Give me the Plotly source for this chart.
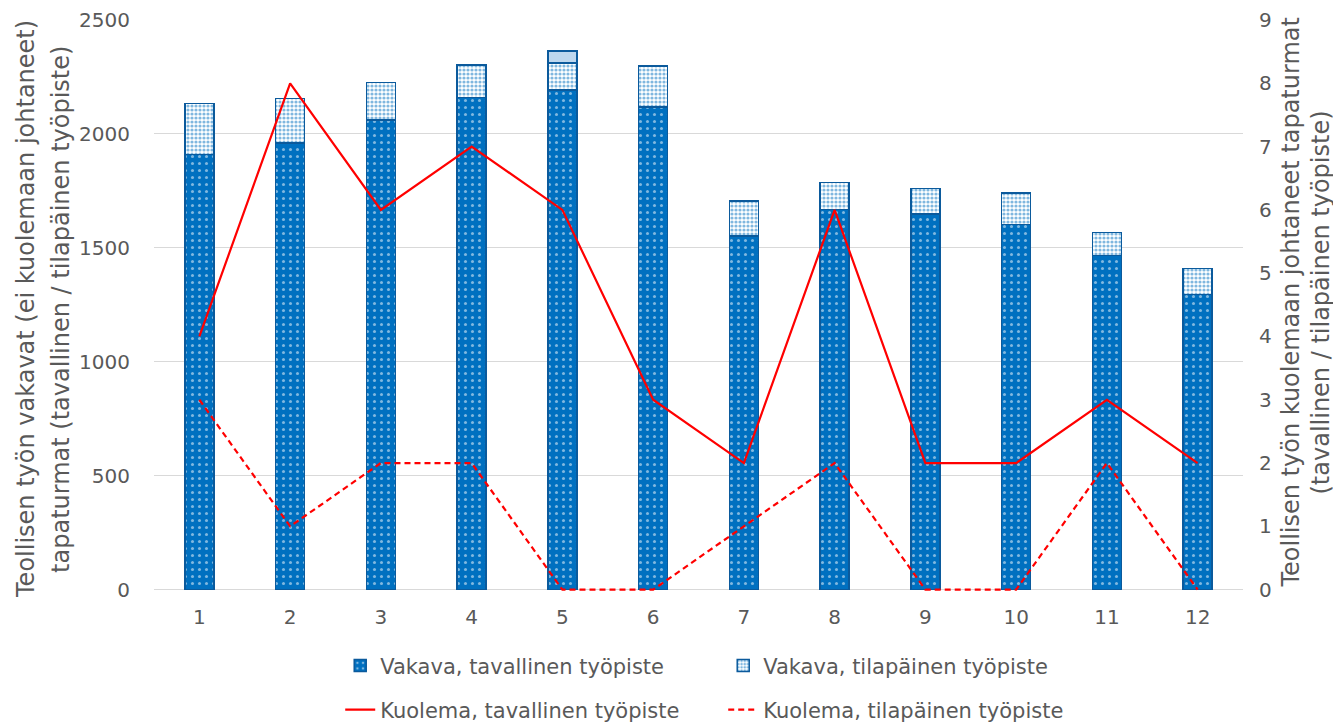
import plotly.graph_objects as go

categories = [str(i) for i in range(1, 13)]
vakava_tavallinen = [1910, 1961, 2061, 2159, 2192, 2119, 1552, 1668, 1649, 1602, 1467, 1296]
vakava_tilapainen = [224, 195, 165, 143, 120, 180, 153, 119, 112, 139, 100, 113]
vakava_muu = [0, 0, 0, 0, 52, 0, 0, 0, 0, 0, 0, 0]
kuolema_tavallinen = [4, 8, 6, 7, 6, 3, 2, 6, 2, 2, 3, 2]
kuolema_tilapainen = [3, 1, 2, 2, 0, 0, 1, 2, 0, 0, 2, 0]

left_title_lines = ["Teollisen työn vakavat (ei kuolemaan johtaneet)",
                    "tapaturmat (tavallinen / tilapäinen työpiste)"]
right_title_lines = ["Teollisen työn kuolemaan johtaneet tapaturmat",
                     "(tavallinen / tilapäinen työpiste)"]

BLUE = "#0070C0"
EDGE = "#0B5A9C"
RED = "#FF0000"
FONT = "DejaVu Sans, Liberation Sans, Arial, sans-serif"
GREY = "#595959"

Y1_MAX, Y2_MAX = 2500, 9
PAD = 6  # small headroom below zero so the zero-level lines are not clipped

fig = go.Figure()
fig.add_trace(go.Bar(
    x=categories, y=vakava_tavallinen, name="Vakava, tavallinen työpiste",
    width=0.32, legend="legend",
    marker=dict(color=BLUE, line=dict(color=EDGE, width=1.5),
                pattern=dict(shape=".", fgcolor="white", bgcolor=BLUE, size=7, solidity=0.15)),
))
fig.add_trace(go.Bar(
    x=categories, y=vakava_tilapainen, name="Vakava, tilapäinen työpiste",
    width=0.32, legend="legend",
    marker=dict(color="white", line=dict(color=EDGE, width=1.5),
                pattern=dict(shape=".", fgcolor=BLUE, bgcolor="white", size=4, solidity=0.5)),
))
fig.add_trace(go.Bar(
    x=categories, y=vakava_muu, name="Vakava, muu",
    width=0.32, showlegend=False,
    marker=dict(color="#BDD7EE", line=dict(color=EDGE, width=1.5)),
))
fig.add_trace(go.Scatter(
    x=categories, y=kuolema_tavallinen, name="Kuolema, tavallinen työpiste",
    mode="lines", yaxis="y2", legend="legend2",
    line=dict(color=RED, width=2.2),
))
fig.add_trace(go.Scatter(
    x=categories, y=kuolema_tilapainen, name="Kuolema, tilapäinen työpiste",
    mode="lines", yaxis="y2", legend="legend2",
    line=dict(color=RED, width=2.2, dash="6px,4px"),
))

legend_common = dict(
    orientation="h", xanchor="left", yanchor="middle", x=0.171, yref="container",
    font=dict(family=FONT, size=21, color=GREY), entrywidth=338, entrywidthmode="pixels",
    bgcolor="rgba(0,0,0,0)", traceorder="normal",
)

title_font = dict(family=FONT, size=24, color=GREY)
annotations = []
for xpos, ypos, txt in [(-0.1175, 0.494, left_title_lines[0]),
                        (-0.0854, 0.494, left_title_lines[1]),
                        (1.044, 0.505, right_title_lines[0]),
                        (1.0715, 0.505, right_title_lines[1])]:
    annotations.append(dict(text=txt, xref="paper", yref="paper", x=xpos, y=ypos,
                            xanchor="center", yanchor="middle", textangle=-90,
                            showarrow=False, font=title_font))

fig.update_layout(
    width=1341, height=726,
    margin=dict(l=146, r=106, t=12, b=143),
    paper_bgcolor="white", plot_bgcolor="white",
    barmode="stack",
    font=dict(family=FONT, size=20, color=GREY),
    xaxis=dict(type="category", showgrid=False, ticks="", tickfont=dict(size=20, color=GREY),
               showline=False, automargin=False, ticklabelstandoff=12),
    yaxis=dict(range=[-PAD, Y1_MAX], dtick=500, tick0=0, showgrid=True, gridcolor="#D9D9D9",
               gridwidth=1, zeroline=False,
               tickfont=dict(size=20, color=GREY), ticks="", automargin=False,
               ticklabelstandoff=23),
    yaxis2=dict(range=[-PAD * Y2_MAX / Y1_MAX, Y2_MAX], dtick=1, tick0=0, overlaying="y",
                side="right", showgrid=False, zeroline=False,
                tickfont=dict(size=20, color=GREY), ticks="", automargin=False,
                ticklabelstandoff=15),
    legend=dict(y=0.0937, **legend_common),
    legend2=dict(y=0.0331, **legend_common),
    annotations=annotations,
)

fig.write_html("out.html")
